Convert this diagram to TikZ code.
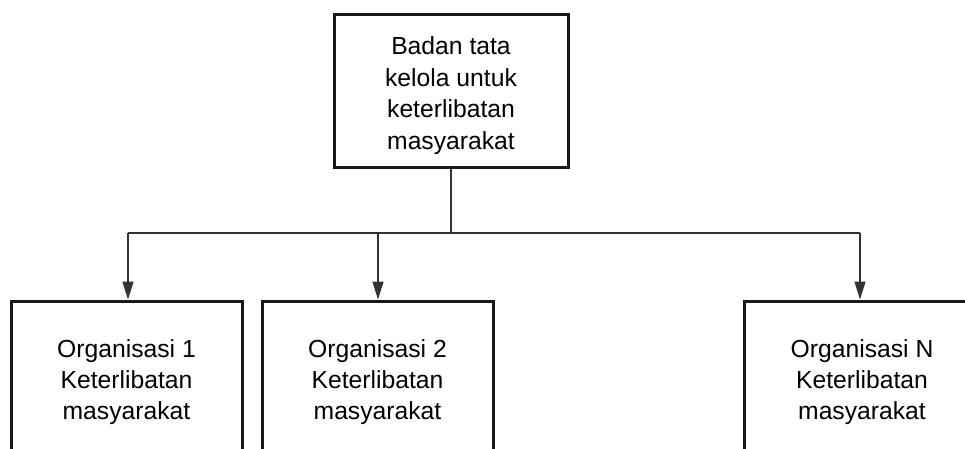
\documentclass[tikz,border=0pt]{standalone}
\usepackage{fontspec}
\setmainfont{Liberation Sans}
\usetikzlibrary{arrows.meta}
\begin{document}
\begin{tikzpicture}[x=1pt,y=-1pt,
  box/.style={draw=black!90, line width=3pt, fill=white, minimum width=231pt,
    minimum height=153pt, inner sep=0pt},
  boxtext/.style={align=center, inner sep=0pt, yshift=-5pt,
    font=\fontsize{24.7pt}{31pt}\selectfont},
  link/.style={draw=black!80, line width=1.4pt},
  arrowlink/.style={link, -{Triangle[length=18pt,width=11pt]}}]
  \useasboundingbox (0,0) rectangle (965,448);
  \clip (0,0) rectangle (965,448);
  % governing body
  \node[box, minimum width=234pt, label={[boxtext, font=\fontsize{24.7pt}{31.5pt}\selectfont]center:{Badan tata\\kelola untuk\\keterlibatan\\masyarakat}}]
    (top) at (451,90.5) {};
  % member organisations
  \node[box, label={[boxtext]center:{Organisasi 1\\Keterlibatan\\masyarakat}}]
    (o1) at (126.5,377.5) {};
  \node[box, label={[boxtext]center:{Organisasi 2\\Keterlibatan\\masyarakat}}]
    (o2) at (377.5,377.5) {};
  \node[box, minimum width=236pt, label={[boxtext]center:{Organisasi N\\Keterlibatan\\masyarakat}}]
    (oN) at (862,377.5) {};
  % branching points on the distribution bar
  \coordinate (hub) at (451,233);
  \coordinate (j1) at (128,233);
  \coordinate (j2) at (378,233);
  \coordinate (jN) at (860,233);
  \draw[link] (top.south) -- (hub);
  \draw[link] (j1) -- (jN);
  \draw[arrowlink] (j1) -- (o1.north -| j1);
  \draw[arrowlink] (j2) -- (o2.north -| j2);
  \draw[arrowlink] (jN) -- (oN.north -| jN);
\end{tikzpicture}
\end{document}
